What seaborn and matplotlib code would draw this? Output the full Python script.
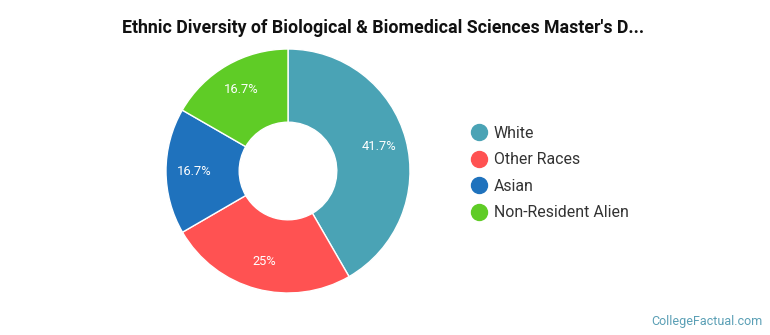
import matplotlib
matplotlib.use("Agg")
import matplotlib.pyplot as plt
from matplotlib.lines import Line2D
import numpy as np
import seaborn as sns

categories = ["White", "Other Races", "Asian", "Non-Resident Alien"]
values = [41.7, 25.0, 16.7, 16.7]
pct_labels = ["41.7%", "25%", "16.7%", "16.7%"]
colors = ["#4aa3b5", "#ff5252", "#1f72bd", "#5fcc26"]
title = "Ethnic Diversity of Biological & Biomedical Sciences Master's D..."
watermark = "CollegeFactual.com"

sns.set_theme(style="white")
plt.rcParams["font.family"] = ["Roboto", "DejaVu Sans"]
palette = sns.color_palette(colors)

fig = plt.figure(figsize=(7.7, 3.35), dpi=100)
fig.patch.set_facecolor("white")

# pie axes: center (288,171) px, radius 122 px
W, H = 770, 335
cx, cy, r = 288, 171, 122
ax = fig.add_axes([(cx - r) / W, (H - cy - r) / H, 2 * r / W, 2 * r / H])
wedges, _ = ax.pie(values, colors=palette, startangle=90, counterclock=False,
                   radius=1.0,
                   wedgeprops=dict(width=0.6, edgecolor="white", linewidth=1.0))
for w, lab in zip(wedges, pct_labels):
    ang = np.deg2rad((w.theta1 + w.theta2) / 2)
    ax.text(0.77 * np.cos(ang), 0.77 * np.sin(ang), lab, ha="center", va="center",
            color="white", fontsize=9.3)
ax.set_xlim(-1.0, 1.0)
ax.set_ylim(-1.0, 1.0)
ax.set_aspect("equal")
ax.axis("off")

fig.text(0.497, 1 - 28 / H, title, ha="center", va="center",
         fontsize=12.8, fontweight="bold", color="#111111")

handles = [Line2D([0], [0], marker="o", linestyle="none", markersize=11.5,
                  markerfacecolor=c, markeredgecolor=c) for c in palette]
leg = fig.legend(handles, categories, loc="upper left",
                 bbox_to_anchor=(462 / W, 1 - 118 / H), frameon=False,
                 fontsize=11.4, labelspacing=0.72, handletextpad=0.3,
                 handlelength=1.2, borderpad=0)
for t in leg.get_texts():
    t.set_color("#333333")

fig.text(762 / W, 1 - 321 / H, watermark, ha="right", va="center",
         fontsize=9, color="#5a9fb5")

fig.savefig("out.png", dpi=100, facecolor="white")
